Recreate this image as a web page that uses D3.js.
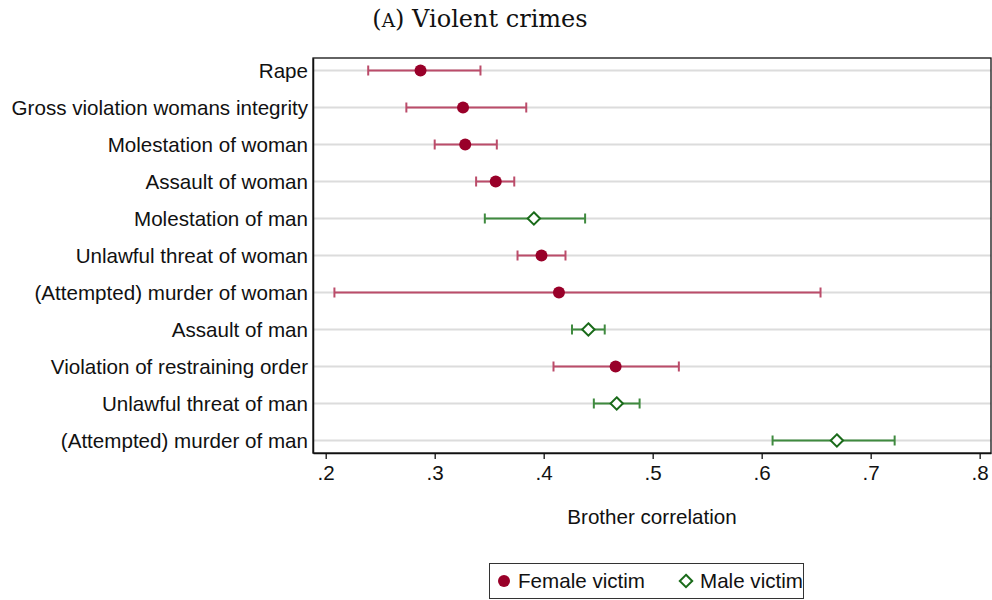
<!DOCTYPE html>
<html>
<head>
<meta charset="utf-8">
<script src="https://cdn.jsdelivr.net/npm/d3@7"></script>
<style>
  body { margin: 0; background: #fff; }
  svg { display: block; }
</style>
</head>
<body>
<div id="chart"></div>
<script>
// Data
const crimes = [
  "Rape",
  "Gross violation womans integrity",
  "Molestation of woman",
  "Assault of woman",
  "Molestation of man",
  "Unlawful threat of woman",
  "(Attempted) murder of woman",
  "Assault of man",
  "Violation of restraining order",
  "Unlawful threat of man",
  "(Attempted) murder of man"
];
const victim = ["F", "F", "F", "F", "M", "F", "F", "M", "F", "M", "M"];
const estimate = [0.287, 0.326, 0.328, 0.356, 0.391, 0.398, 0.414, 0.441, 0.466, 0.467, 0.669];
const ciLow  = [0.239, 0.274, 0.300, 0.338, 0.346, 0.376, 0.208, 0.426, 0.409, 0.446, 0.610];
const ciHigh = [0.342, 0.384, 0.357, 0.373, 0.438, 0.420, 0.654, 0.456, 0.524, 0.488, 0.722];
const xTicks = [0.2, 0.3, 0.4, 0.5, 0.6, 0.7, 0.8];
const legendItems = [
  { key: "F", label: "Female victim" },
  { key: "M", label: "Male victim" }
];

const colors = {
  F: { mark: "#990029", ci: "#bb4c6a" },
  M: { mark: "#1a6b1a", ci: "#3f8a3f" }
};

const W = 992, H = 600;
const plot = { left: 313, top: 58, right: 991, bottom: 453 };
const FONT = "'Liberation Sans', Arial, sans-serif";
const FS = 20.6;

const svg = d3.select("#chart").append("svg")
  .attr("width", W)
  .attr("height", H);

const rows = crimes.map((c, i) => ({
  crime: c, victim: victim[i], est: estimate[i], lo: ciLow[i], hi: ciHigh[i]
}));

// Scales
const x = d3.scaleLinear()
  .domain([0.18835, 0.8104])
  .range([plot.left, plot.right]);

const y = d3.scalePoint()
  .domain(crimes)
  .range([plot.top, plot.bottom])
  .padding(0.338);

// Title
const title = svg.append("text")
  .attr("x", 480)
  .attr("y", 27)
  .attr("text-anchor", "middle")
  .attr("font-family", "'DejaVu Serif', serif")
  .attr("font-size", 24)
  .attr("fill", "#111");
title.append("tspan").text("(");
title.append("tspan").attr("font-size", 18.5).text("A");
title.append("tspan").text(") Violent crimes");

// Gridlines
svg.append("g")
  .selectAll("line")
  .data(crimes)
  .join("line")
  .attr("x1", plot.left)
  .attr("x2", plot.right)
  .attr("y1", d => y(d))
  .attr("y2", d => y(d))
  .attr("stroke", "#dcdcdc")
  .attr("stroke-width", 2);

// Frame
svg.append("rect")
  .attr("x", plot.left)
  .attr("y", plot.top)
  .attr("width", plot.right - plot.left)
  .attr("height", plot.bottom - plot.top)
  .attr("fill", "none")
  .attr("stroke", "#111")
  .attr("stroke-width", 1.3);

// X axis
const xAxis = svg.append("g")
  .attr("transform", `translate(0,${plot.bottom})`)
  .call(d3.axisBottom(x)
    .tickValues(xTicks)
    .tickSize(6)
    .tickSizeOuter(0)
    .tickFormat(d => d3.format(".1f")(d).replace(/^0/, "")));
xAxis.select(".domain").attr("stroke", "#111").attr("stroke-width", 1.5);
xAxis.selectAll(".tick line").attr("stroke", "#111").attr("stroke-width", 1.3);
xAxis.selectAll(".tick text")
  .attr("font-family", FONT)
  .attr("font-size", FS)
  .attr("fill", "#111")
  .attr("dy", "0.85em");

// Y axis
const yAxis = svg.append("g")
  .attr("transform", `translate(${plot.left},0)`)
  .call(d3.axisLeft(y).tickSize(0).tickPadding(5));
yAxis.select(".domain").attr("stroke", "#111").attr("stroke-width", 1.5);
yAxis.selectAll(".tick text")
  .attr("font-family", FONT)
  .attr("font-size", FS)
  .attr("fill", "#111");

// Axis title
svg.append("text")
  .attr("x", (plot.left + plot.right) / 2)
  .attr("y", 524)
  .attr("text-anchor", "middle")
  .attr("font-family", FONT)
  .attr("font-size", FS)
  .attr("fill", "#111")
  .text("Brother correlation");

// Confidence intervals
const ci = svg.append("g");
const capH = 5;
rows.forEach(d => {
  const col = colors[d.victim].ci;
  const yy = y(d.crime);
  ci.append("line")
    .attr("x1", x(d.lo)).attr("x2", x(d.hi))
    .attr("y1", yy).attr("y2", yy)
    .attr("stroke", col).attr("stroke-width", 2);
  [d.lo, d.hi].forEach(v => {
    ci.append("line")
      .attr("x1", x(v)).attr("x2", x(v))
      .attr("y1", yy - capH).attr("y2", yy + capH)
      .attr("stroke", col).attr("stroke-width", 2);
  });
});

// Markers
const diamond = (cx, cy, r) => `M${cx},${cy - r}L${cx + r},${cy}L${cx},${cy + r}L${cx - r},${cy}Z`;

function drawMarker(g, key, cx, cy) {
  if (key === "F") {
    g.append("circle")
      .attr("cx", cx).attr("cy", cy).attr("r", 6)
      .attr("fill", colors.F.mark);
  } else {
    g.append("path")
      .attr("d", diamond(cx, cy, 6.2))
      .attr("fill", "#fff")
      .attr("stroke", colors.M.mark)
      .attr("stroke-width", 2);
  }
}

const marks = svg.append("g");
rows.forEach(d => drawMarker(marks, d.victim, x(d.est), y(d.crime)));

// Legend
const legend = svg.append("g");
legend.append("rect")
  .attr("x", 489.5).attr("y", 563.5)
  .attr("width", 314).attr("height", 35)
  .attr("fill", "#fff")
  .attr("stroke", "#333")
  .attr("stroke-width", 1);
const legendX = [504, 686];
legendItems.forEach((it, i) => {
  drawMarker(legend, it.key, legendX[i], 581);
  legend.append("text")
    .attr("x", legendX[i] + 14)
    .attr("y", 581)
    .attr("dy", "0.35em")
    .attr("font-family", FONT)
    .attr("font-size", FS)
    .attr("fill", "#111")
    .text(it.label);
});
</script>
</body>
</html>
